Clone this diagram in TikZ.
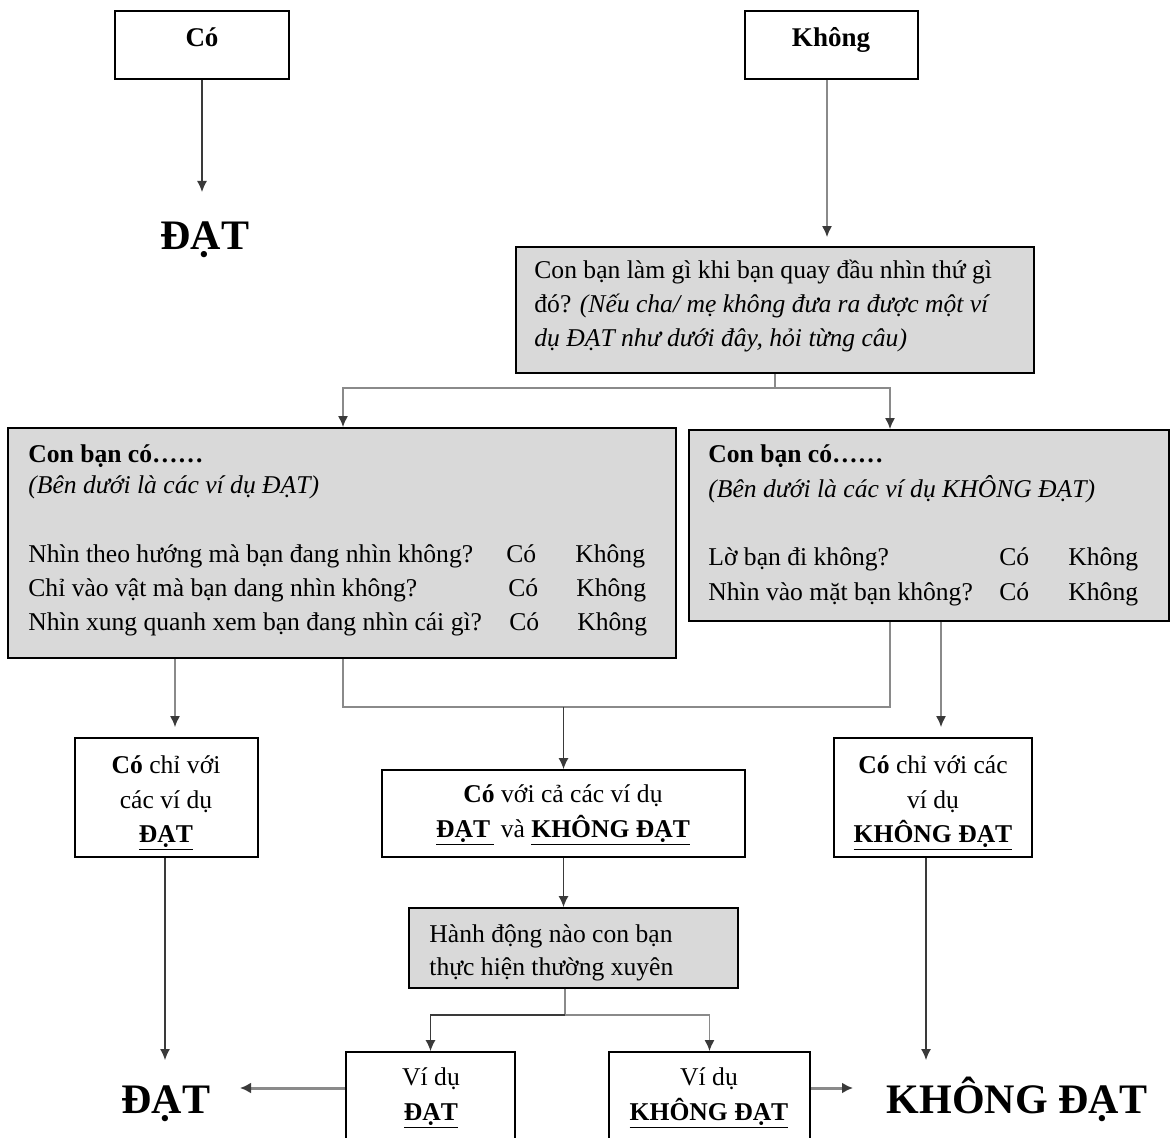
\documentclass[tikz,border=0pt]{standalone}
\usepackage{fontspec}
\setmainfont{Liberation Serif}
\usetikzlibrary{arrows.meta,fit,calc}
\definecolor{boxgray}{HTML}{D9D9D9}
\definecolor{linegray}{HTML}{8A8A8A}
\definecolor{darkline}{HTML}{3A3A3A}
\begin{document}
\begin{tikzpicture}[x=0.5pt,y=-0.5pt,
  box/.style={draw=black, line width=0.9pt, inner sep=0pt},
  gbox/.style={box, fill=boxgray},
  txt/.style={inner sep=0pt, anchor=base west, font=\fontsize{12.8}{17}\selectfont},
  ctxt/.style={txt, anchor=base},
  big/.style={inner sep=0pt, anchor=base, font=\fontsize{21}{25}\selectfont\bfseries},
  arr/.style={-{Latex[length=5.5pt,width=5pt,color=darkline]}, line width=0.6pt, draw=darkline},
  garr/.style={-{Latex[length=5.5pt,width=5pt,color=darkline]}, line width=0.8pt, draw=linegray},
  gline/.style={draw=linegray, line width=0.8pt},
  thickarr/.style={-{Latex[length=5.5pt,width=5.5pt,color=darkline]}, line width=1.5pt, draw=linegray}]
\path[use as bounding box, clip] (0,0) rectangle (1171,1138);
\fill[white] (0,0) rectangle (1171,1138);

% ---- boxes ----
\node[box,  fit={(115,11) (289,79)}]   (Co) {};
\node[box,  fit={(745,11) (918,79)}]   (K) {};
\node[gbox, fit={(516,247) (1034,373)}] (Q) {};
\node[gbox, fit={(8,428) (676,658)}]    (L) {};
\node[gbox, fit={(689,430) (1169,621)}] (R) {};
\node[box,  fit={(75,738) (258,857)}]   (DL) {};
\node[box,  fit={(382,770) (745,857)}]  (DC) {};
\node[box,  fit={(834,738) (1032,857)}] (DR) {};
\node[gbox, fit={(409,908) (738,988)}]  (H) {};
\node[box,  fit={(346,1052) (515,1170)}] (VL) {};
\node[box,  fit={(609,1052) (810,1170)}] (VR) {};

% ---- texts ----
\node[ctxt, font=\fontsize{13.5}{17}\selectfont\bfseries] (CoT) at (202,47) {Có};
\node[ctxt, font=\fontsize{13.5}{17}\selectfont\bfseries] (KT) at (831,47) {Không};
\node[big] (DAT1) at (205,250) {ĐẠT};

\node[txt] (Q1) at (534,279) {Con bạn làm gì khi bạn quay đầu nhìn thứ gì};
\node[txt] (Q2) at (534,313) {đó? \textit{(Nếu cha/ mẹ không đưa ra được một ví}};
\node[txt] (Q3) at (534,347) {\textit{dụ ĐẠT như dưới đây, hỏi từng câu)}};

\node[txt, font=\fontsize{12.8}{17}\selectfont\bfseries] (L1) at (28,462) {Con bạn có……};
\node[txt] (L2) at (28,494) {\textit{(Bên dưới là các ví dụ ĐẠT)}};
\node[txt] (L3a) at (28,562) {Nhìn theo hướng mà bạn đang nhìn không?};
\node[txt] (L3b) at (506,562) {Có};
\node[txt] (L3c) at (575,562) {Không};
\node[txt] (L4a) at (28,596) {Chỉ vào vật mà bạn dang nhìn không?};
\node[txt] (L4b) at (508,596) {Có};
\node[txt] (L4c) at (576,596) {Không};
\node[txt] (L5a) at (28,630) {Nhìn xung quanh xem bạn đang nhìn cái gì?};
\node[txt] (L5b) at (509,630) {Có};
\node[txt] (L5c) at (577,630) {Không};

\node[txt, font=\fontsize{12.8}{17}\selectfont\bfseries] (R1) at (708,463) {Con bạn có……};
\node[txt] (R2) at (708,497) {\textit{(Bên dưới là các ví dụ KHÔNG ĐẠT)}};
\node[txt] (R3a) at (708,565) {Lờ bạn đi không?};
\node[txt] (R3b) at (999,565) {Có};
\node[txt] (R3c) at (1068,565) {Không};
\node[txt] (R4a) at (708,600) {Nhìn vào mặt bạn không?};
\node[txt] (R4b) at (999,600) {Có};
\node[txt] (R4c) at (1068,600) {Không};

\node[ctxt] (DL1) at (166,773) {\textbf{Có} chỉ với};
\node[ctxt] (DL2) at (166,808) {các ví dụ};
\node[ctxt] (DL3) at (166,842) {\textbf{\underline{ĐẠT}}};

\node[ctxt] (DC1) at (563,802) {\textbf{Có} với cả các ví dụ};
\node[ctxt] (DC2) at (563,837) {\textbf{\underline{ĐẠT\,}} và \textbf{\underline{KHÔNG ĐẠT}}};

\node[ctxt] (DR1) at (933,773) {\textbf{Có} chỉ với các};
\node[ctxt] (DR2) at (933,808) {ví dụ};
\node[ctxt] (DR3) at (933,842) {\textbf{\underline{KHÔNG ĐẠT}}};

\node[txt] (H1) at (429,942) {Hành động nào con bạn};
\node[txt] (H2) at (429,975) {thực hiện thường xuyên};

\node[ctxt] (VL1) at (431,1085) {Ví dụ};
\node[ctxt] (VL2) at (431,1120) {\textbf{\underline{ĐẠT}}};
\node[ctxt] (VR1) at (709,1085) {Ví dụ};
\node[ctxt] (VR2) at (709,1120) {\textbf{\underline{KHÔNG ĐẠT}}};

\node[big] (DAT2) at (166,1113) {ĐẠT};
\node[big] (KDAT) at (1017,1113) {KHÔNG ĐẠT};

% ---- connector points ----
\coordinate (a1) at (202,192);
\coordinate (qb) at (775,388);
\coordinate (jl) at (343,707);
\coordinate (jr) at (890,707);
\coordinate (hs) at (565,1015);
\coordinate (dlend) at (165,1060);
\coordinate (drend) at (926,1060);
\coordinate (lend) at (240,1088);
\coordinate (rend) at (853,1088);

% ---- connectors ----
\draw[arr] (Co.south) -- (a1);
\draw[garr, shorten >=4.5pt] (K.south -| 827,0) -- (Q.north -| 827,0);
\draw[gline] (Q.south -| qb) -- (qb);
\draw[garr] (qb) -| (L.north -| 343,0);
\draw[garr] (qb) -| (R.north -| 890,0);
\draw[garr, shorten >=5pt] (L.south -| 175,0) -- (DL.north -| 175,0);
\draw[gline] (L.south -| jl) -- (jl) -- (jr) -- (R.south -| jr);
\draw[arr] (DC.north |- jl) -- (DC.north);
\draw[garr, shorten >=5pt] (R.south -| 941,0) -- (DR.north -| 941,0);
\draw[arr] (DC.south) -- (H.north -| DC.south);
\draw[gline] (H.south -| hs) -- (hs);
\draw[arr] (hs) -| (VL.north);
\draw[garr] (hs) -| (VR.north);
\draw[arr] (DL.south -| dlend) -- (dlend);
\draw[arr] (DR.south -| drend) -- (drend);
\draw[thickarr] (VL.west |- lend) -- (lend);
\draw[thickarr] (VR.east |- rend) -- (rend);
\end{tikzpicture}
\end{document}
